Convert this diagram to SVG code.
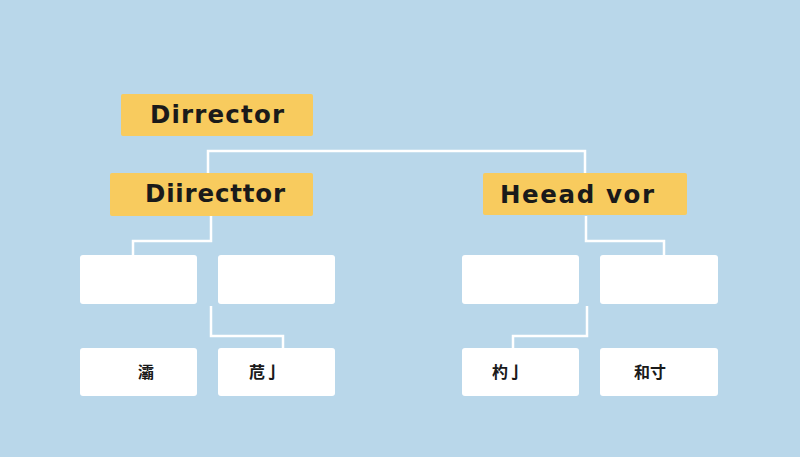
<svg xmlns="http://www.w3.org/2000/svg" width="800" height="457" viewBox="0 0 800 457">
<style>
.bg{fill:#b9d7ea}
.y{fill:#f8cb5e}
.w{fill:#ffffff}
.t{font-family:"DejaVu Sans","Open Sans",sans-serif;font-weight:bold;font-size:24.5px;fill:#1a1a1a;text-anchor:middle}
.c{font-family:"Noto Sans CJK SC","Noto Sans CJK JP",sans-serif;font-weight:bold;font-size:16px;fill:#1a1a1a;text-anchor:middle;dominant-baseline:central}
.l{fill:none;stroke:#ffffff;stroke-width:2.5}
</style>
<rect class="bg" x="0" y="0" width="800" height="457"/>
<g id="connectors">
<path class="l" d="M208,173 V151 H585 V173"/>
<path class="l" d="M211,216 V241 H133 V255"/>
<path class="l" d="M586,216 V241 H664 V255"/>
<path class="l" d="M211,306 V336 H283 V348"/>
<path class="l" d="M587,306 V336 H513 V348"/>
</g>
<g id="n1"><rect class="y" x="121" y="94" width="192" height="42" rx="2"/><text class="t" x="217" y="123" textLength="134" lengthAdjust="spacing">Dirrector</text></g>
<g id="n2"><rect class="y" x="110" y="173" width="203" height="43" rx="2"/><text class="t" x="215" y="202" textLength="140" lengthAdjust="spacing">Diirecttor</text></g>
<g id="n3"><rect class="y" x="483" y="173" width="204" height="42" rx="2"/><text class="t" x="577" y="203" textLength="154" lengthAdjust="spacing">Heead vor</text></g>
<g id="n4"><rect class="w" x="80" y="255" width="117" height="49" rx="3"/></g>
<g id="n5"><rect class="w" x="218" y="255" width="117" height="49" rx="3"/></g>
<g id="n6"><rect class="w" x="462" y="255" width="117" height="49" rx="3"/></g>
<g id="n7"><rect class="w" x="600" y="255" width="118" height="49" rx="3"/></g>
<g id="n8"><rect class="w" x="80" y="348" width="117" height="48" rx="3"/><text class="c" x="146" y="371">灞</text></g>
<g id="n9"><rect class="w" x="218" y="348" width="117" height="48" rx="3"/><text class="c" x="265" y="371">苊亅</text></g>
<g id="n10"><rect class="w" x="462" y="348" width="117" height="48" rx="3"/><text class="c" x="508" y="371">杓亅</text></g>
<g id="n11"><rect class="w" x="600" y="348" width="118" height="48" rx="3"/><text class="c" x="650" y="371">和寸</text></g>
</svg>
